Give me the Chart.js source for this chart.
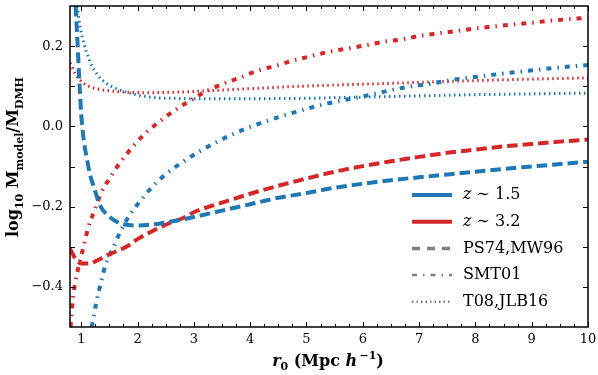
<!DOCTYPE html>
<html>
<head>
<meta charset="utf-8">
<script src="https://cdn.jsdelivr.net/npm/chart.js@4.4.0/dist/chart.umd.min.js"></script>
<style>
  html, body { margin: 0; padding: 0; background: #fff; }
  canvas { display: block; }
</style>
</head>
<body>
<canvas id="massChart" width="598" height="375"></canvas>
<script>
// tick labels
const xTicks = [1, 2, 3, 4, 5, 6, 7, 8, 9, 10];
const yTicks = [-0.4, -0.2, 0, 0.2];

// PS74,MW96 (dashed)
const psLowX = [0.9, 0.93, 0.96, 1.0, 1.05, 1.1, 1.15, 1.23, 1.33, 1.5, 1.75, 2.0, 2.3, 2.6, 3.0, 3.5, 4.0, 4.5, 5.0, 5.5, 6.0, 6.5, 7.0, 7.5, 8.0, 8.5, 9.0, 9.5, 10];
const psLowY = [0.30, 0.22, 0.13, 0.03, -0.04, -0.08, -0.117, -0.154, -0.196, -0.225, -0.244, -0.247, -0.244, -0.237, -0.226, -0.210, -0.194, -0.178, -0.166, -0.153, -0.143, -0.134, -0.127, -0.120, -0.113, -0.106, -0.100, -0.094, -0.088];
const psHighX = [0.8, 0.9, 1.0, 1.15, 1.3, 1.5, 1.8, 2.0, 2.25, 2.55, 2.8, 3.0, 3.5, 4.0, 4.5, 5.0, 5.5, 6.0, 6.5, 7.0, 7.5, 8.0, 8.5, 9.0, 9.5, 10];
const psHighY = [-0.305, -0.330, -0.342, -0.342, -0.333, -0.319, -0.300, -0.281, -0.262, -0.242, -0.229, -0.214, -0.190, -0.168, -0.148, -0.130, -0.113, -0.099, -0.087, -0.076, -0.066, -0.058, -0.050, -0.044, -0.038, -0.033];

// SMT01 (dash-dot)
const smtLowX = [1.186, 1.21, 1.27, 1.35, 1.43, 1.57, 1.71, 1.87, 2.06, 2.28, 2.52, 2.79, 3.07, 3.65, 3.97, 4.27, 4.59, 4.89, 5.22, 5.54, 5.87, 6.17, 6.82, 7.15, 7.47, 7.8, 8.12, 8.45, 8.78, 9.1, 9.43, 9.75, 10];
const smtLowY = [-0.5, -0.482, -0.437, -0.389, -0.345, -0.302, -0.258, -0.219, -0.184, -0.148, -0.117, -0.090, -0.065, -0.022, -0.003, 0.012, 0.027, 0.039, 0.052, 0.062, 0.071, 0.080, 0.099, 0.105, 0.113, 0.120, 0.125, 0.131, 0.136, 0.141, 0.146, 0.150, 0.153];
const smtHighX = [0.81, 0.85, 0.9, 0.96, 1.04, 1.12, 1.23, 1.35, 1.51, 1.69, 1.9, 2.12, 2.37, 2.64, 2.92, 3.2, 3.5, 3.81, 4.12, 4.45, 4.76, 5.08, 5.4, 5.72, 6.05, 6.37, 6.7, 7.03, 7.35, 7.68, 8.0, 8.33, 8.66, 8.98, 9.31, 9.64, 10];
const smtHighY = [-0.5, -0.43, -0.385, -0.345, -0.300, -0.254, -0.211, -0.167, -0.128, -0.090, -0.053, -0.020, 0.010, 0.038, 0.063, 0.086, 0.105, 0.121, 0.138, 0.151, 0.164, 0.175, 0.186, 0.194, 0.202, 0.211, 0.217, 0.226, 0.232, 0.238, 0.244, 0.249, 0.254, 0.258, 0.263, 0.267, 0.271];

// T08,JLB16 (dotted)
const tLowX = [0.93, 0.96, 1.0, 1.05, 1.1, 1.18, 1.3, 1.45, 1.63, 1.84, 2.07, 2.37, 2.67, 3.0, 4.0, 5.0, 6.0, 7.0, 8.0, 9.0, 10];
const tLowY = [0.30, 0.265, 0.235, 0.205, 0.182, 0.153, 0.126, 0.107, 0.093, 0.084, 0.076, 0.071, 0.070, 0.069, 0.069, 0.070, 0.073, 0.076, 0.079, 0.081, 0.083];
const tHighX = [0.8, 0.82, 0.89, 0.98, 1.12, 1.3, 1.54, 1.84, 2.19, 2.61, 3.14, 4.0, 4.72, 5.5, 6.43, 7.5, 8.5, 10];
const tHighY = [0.158, 0.153, 0.132, 0.115, 0.101, 0.093, 0.088, 0.085, 0.084, 0.085, 0.088, 0.094, 0.099, 0.103, 0.107, 0.112, 0.116, 0.121];

const blue = '#1f77b4';
const red = '#d62728';
const grey = '#7f7f7f';

const DASHED = [10.5, 5];
const DASHDOT = [5, 6, 1.5, 6];
const DOTTED = [1.5, 3.5];

function pts(xs, ys) {
    return xs.map((x, i) => ({ x: x, y: ys[i] }));
}

function series(label, xs, ys, color, dash, width) {
    return {
        label: label,
        data: pts(xs, ys),
        borderColor: color,
        borderWidth: width,
        borderDash: dash,
        borderCapStyle: 'butt',
        pointRadius: 0,
        fill: false,
        cubicInterpolationMode: 'monotone',
        clip: 0
    };
}

// legend entries
const legendItems = [
    { pre: 'z', text: ' \u223C 1.5', color: blue, dash: [], width: 4 },
    { pre: 'z', text: ' \u223C 3.2', color: red, dash: [], width: 4 },
    { pre: '', text: 'PS74,MW96', color: grey, dash: [8, 7], width: 3.5 },
    { pre: '', text: 'SMT01', color: grey, dash: [5, 6, 1.5, 6], width: 2.5 },
    { pre: '', text: 'T08,JLB16', color: grey, dash: [1.5, 3], width: 2.5 }
];

const SERIF = '"DejaVu Serif", serif';

function drawRuns(ctx, runs, cx, baseY) {
    let total = 0;
    runs.forEach(r => { ctx.font = r.font; total += ctx.measureText(r.t).width; });
    let x = cx - total / 2;
    ctx.textAlign = 'left';
    ctx.textBaseline = 'alphabetic';
    runs.forEach(r => {
        ctx.font = r.font;
        ctx.fillText(r.t, x, baseY + (r.dy || 0));
        x += ctx.measureText(r.t).width;
    });
}

const decorations = {
    id: 'decorations',
    afterDatasetsDraw(chart) {
        const { ctx, chartArea: a, scales: { x, y } } = chart;
        ctx.save();
        ctx.strokeStyle = '#000';
        ctx.lineWidth = 1;
        ctx.setLineDash([]);
        ctx.beginPath();
        // x ticks, major every 1, minor every 0.25
        for (let i = 0; i <= 36; i++) {
            const v = 1 + i * 0.25;
            const len = (i % 4 === 0) ? 5 : 3;
            const px = Math.round(x.getPixelForValue(v)) + 0.5;
            ctx.moveTo(px, a.bottom); ctx.lineTo(px, a.bottom - len);
            ctx.moveTo(px, a.top); ctx.lineTo(px, a.top + len);
        }
        // y ticks every 0.1
        for (let i = 1; i < 8; i++) {
            const v = -0.5 + i * 0.1;
            const py = Math.round(y.getPixelForValue(v)) + 0.5;
            ctx.moveTo(a.left, py); ctx.lineTo(a.left + 5, py);
            ctx.moveTo(a.right, py); ctx.lineTo(a.right - 5, py);
        }
        ctx.stroke();
        ctx.lineWidth = 1.5;
        ctx.strokeRect(a.left, a.top, a.right - a.left, a.bottom - a.top);

        // legend
        legendItems.forEach((it, i) => {
            const ry = 195 + i * 26.7;
            ctx.beginPath();
            ctx.strokeStyle = it.color;
            ctx.lineWidth = it.width;
            ctx.lineCap = 'butt';
            ctx.setLineDash(it.dash);
            ctx.moveTo(412, ry);
            ctx.lineTo(452, ry);
            ctx.stroke();
            ctx.setLineDash([]);
            ctx.fillStyle = '#000';
            ctx.textBaseline = 'middle';
            ctx.textAlign = 'left';
            let tx = 463;
            if (it.pre) {
                ctx.font = 'italic 16px ' + SERIF;
                ctx.fillText(it.pre, tx, ry);
                tx += ctx.measureText(it.pre).width;
            }
            ctx.font = '16px ' + SERIF;
            ctx.fillText(it.text, tx, ry);
        });

        // axis titles
        ctx.fillStyle = '#000';
        const big = 'bold 16px ' + SERIF;
        const small = 'bold 11px ' + SERIF;
        drawRuns(ctx, [
            { t: 'r', font: 'italic ' + big },
            { t: '0', font: small, dy: 4 },
            { t: ' (Mpc ', font: big },
            { t: 'h', font: 'italic ' + big },
            { t: '\u2009\u22121', font: small, dy: -7 },
            { t: ')', font: big }
        ], 328, 366);

        ctx.save();
        ctx.translate(18, 157);
        ctx.rotate(-Math.PI / 2);
        drawRuns(ctx, [
            { t: 'log', font: big },
            { t: '10', font: small, dy: 5 },
            { t: ' M', font: big },
            { t: 'model', font: small, dy: 5 },
            { t: '/M', font: big },
            { t: 'DMH', font: small, dy: 5 }
        ], 0, 0);
        ctx.restore();
        ctx.restore();
    }
};

const tickFont = { family: SERIF, size: 13 };

new Chart(document.getElementById('massChart').getContext('2d'), {
    type: 'line',
    data: {
        datasets: [
            series('PS74 z1.5', psLowX, psLowY, blue, DASHED, 4),
            series('PS74 z3.2', psHighX, psHighY, red, DASHED, 4),
            series('SMT01 z1.5', smtLowX, smtLowY, blue, DASHDOT, 4),
            series('SMT01 z3.2', smtHighX, smtHighY, red, DASHDOT, 4),
            series('T08 z1.5', tLowX, tLowY, blue, DOTTED, 3),
            series('T08 z3.2', tHighX, tHighY, red, DOTTED, 3)
        ]
    },
    options: {
        responsive: false,
        animation: false,
        layout: { padding: { top: 6, right: 10, left: 0, bottom: 0 } },
        scales: {
            x: {
                type: 'linear',
                min: 0.8,
                max: 10,
                afterBuildTicks: s => { s.ticks = xTicks.map(v => ({ value: v })); },
                afterFit: s => { s.height = 48; s.paddingLeft = 0; s.paddingRight = 0; },
                grid: { display: false, drawTicks: false },
                border: { display: false },
                ticks: {
                    color: '#000',
                    font: tickFont,
                    padding: 5,
                    maxRotation: 0,
                    autoSkip: false,
                    callback: v => String(v)
                }
            },
            y: {
                type: 'linear',
                min: -0.5,
                max: 0.3,
                afterBuildTicks: s => { s.ticks = yTicks.map(v => ({ value: v })); },
                afterFit: s => { s.width = 70; s.paddingTop = 0; s.paddingBottom = 0; },
                grid: { display: false, drawTicks: false },
                border: { display: false },
                ticks: {
                    color: '#000',
                    font: tickFont,
                    padding: 7,
                    autoSkip: false,
                    callback: v => (v < -1e-9 ? '\u2212' : '') + Math.abs(v).toFixed(1)
                }
            }
        },
        plugins: {
            legend: { display: false },
            tooltip: { enabled: false }
        }
    },
    plugins: [decorations]
});
</script>
</body>
</html>
